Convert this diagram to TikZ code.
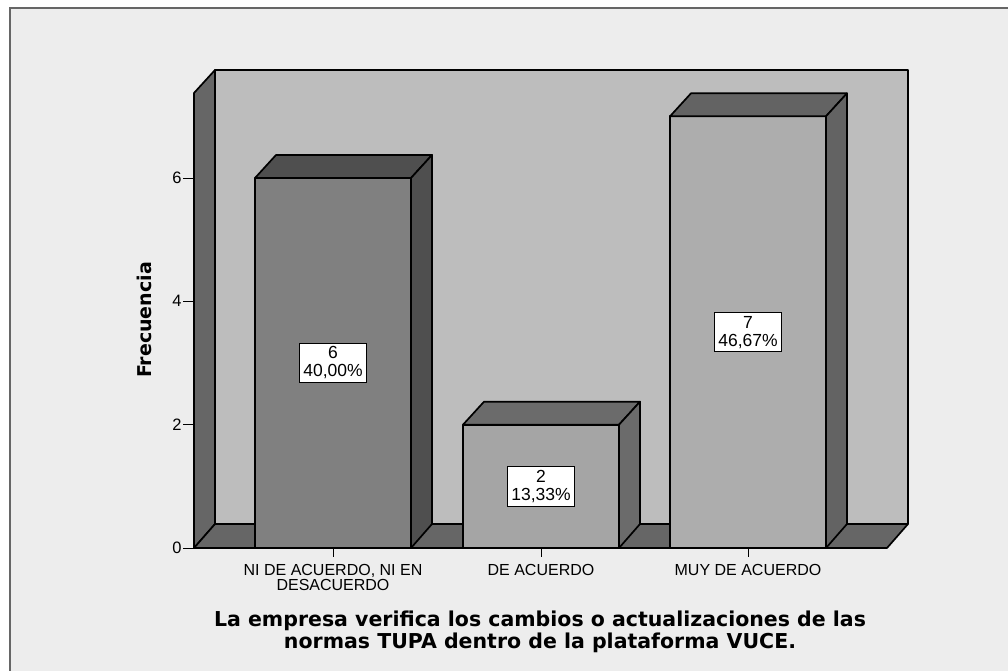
\documentclass[tikz,border=0pt]{standalone}
\usepackage{fontspec}
\setmainfont{Liberation Sans}
\newfontfamily\headfont{DejaVu Sans}
\definecolor{paper}{gray}{0.93}
\definecolor{framec}{gray}{0.40}
\definecolor{wallc}{gray}{0.74}
\definecolor{floorc}{gray}{0.40}
\definecolor{darkbar}{gray}{0.50}
\definecolor{darkside}{gray}{0.31}
\definecolor{lightbar}{gray}{0.68}
\definecolor{lightside}{gray}{0.39}

\begin{document}
\begin{tikzpicture}[x=1pt,y=-1pt,line width=1.7pt,
    panel/.style={draw=black,line join=round},
    valbox/.style={draw=black,fill=white,line width=0.9pt,align=center,
      inner xsep=4pt,inner ysep=3.5pt,font=\fontsize{17.5}{18}\selectfont},
    catlabel/.style={anchor=north,inner sep=0pt,align=center,
      font=\fontsize{16}{15}\selectfont},
    numlabel/.style={anchor=east,inner sep=1pt,font=\fontsize{16.5}{17}\selectfont},
    axistitle/.style={align=center,font=\headfont\bfseries\fontsize{20.5}{22}\selectfont}]
  \useasboundingbox (0,0) rectangle (1008,671);
  \fill[white] (0,0) rectangle (1008,671);
  \fill[paper] (10,8) rectangle (1008,671);
  \draw[framec,line width=1.6pt] (1008,8) -- (10,8) -- (10,671);

  % back wall, side wall and floor
  \filldraw[panel,fill=wallc] (215,70) rectangle (908,524);
  \filldraw[panel,fill=floorc] (194,93) -- (215,70) -- (215,524) -- (194,548) -- cycle;
  \filldraw[panel,fill=floorc] (194,548) -- (215,524) -- (908,524) -- (887,548) -- cycle;

  % y axis
  \foreach \v/\y in {0/548,2/424.7,4/301.3,6/178}
    \draw[line width=1pt] (183,\y) -- (194,\y) node[numlabel] at (183,\y) {\v};
  \node[axistitle,font=\headfont\bfseries\fontsize{19}{20}\selectfont,rotate=90] (ytitle) at (144,320) {Frecuencia};

  % bars: left x, top y, front, top and side colours
  \foreach \x/\h/\cf/\ct in {255/178/darkbar/darkside,463/424.7/lightbar!110/lightside!95,670/116.3/lightbar/lightside}{
    \filldraw[panel,fill=\cf] (\x,\h) rectangle (\x+156,548);
    \filldraw[panel,fill=\ct] (\x,\h) -- (\x+21,\h-23) -- (\x+177,\h-23) -- (\x+156,\h) -- cycle;
    \filldraw[panel,fill=\ct] (\x+156,\h) -- (\x+177,\h-23) -- (\x+177,524) -- (\x+156,548) -- cycle;
  }

  % value boxes
  \node[valbox] (v1) at (333,363) {6\\40,00\%};
  \node[valbox] (v2) at (541,486.3) {2\\13,33\%};
  \node[valbox] (v3) at (748,332.2) {7\\46,67\%};

  % categories
  \foreach \x in {333,541,748}
    \draw[line width=1pt] (\x,548) -- (\x,557);
  \node[catlabel] (c1) at (333,563) {NI DE ACUERDO, NI EN\\DESACUERDO};
  \node[catlabel] (c2) at (541,563) {DE ACUERDO};
  \node[catlabel] (c3) at (748,563) {MUY DE ACUERDO};

  \node[axistitle] (xtitle) at (540,632) {La empresa verifica los cambios o actualizaciones de las\\normas TUPA dentro de la plataforma VUCE.};
\end{tikzpicture}
\end{document}
